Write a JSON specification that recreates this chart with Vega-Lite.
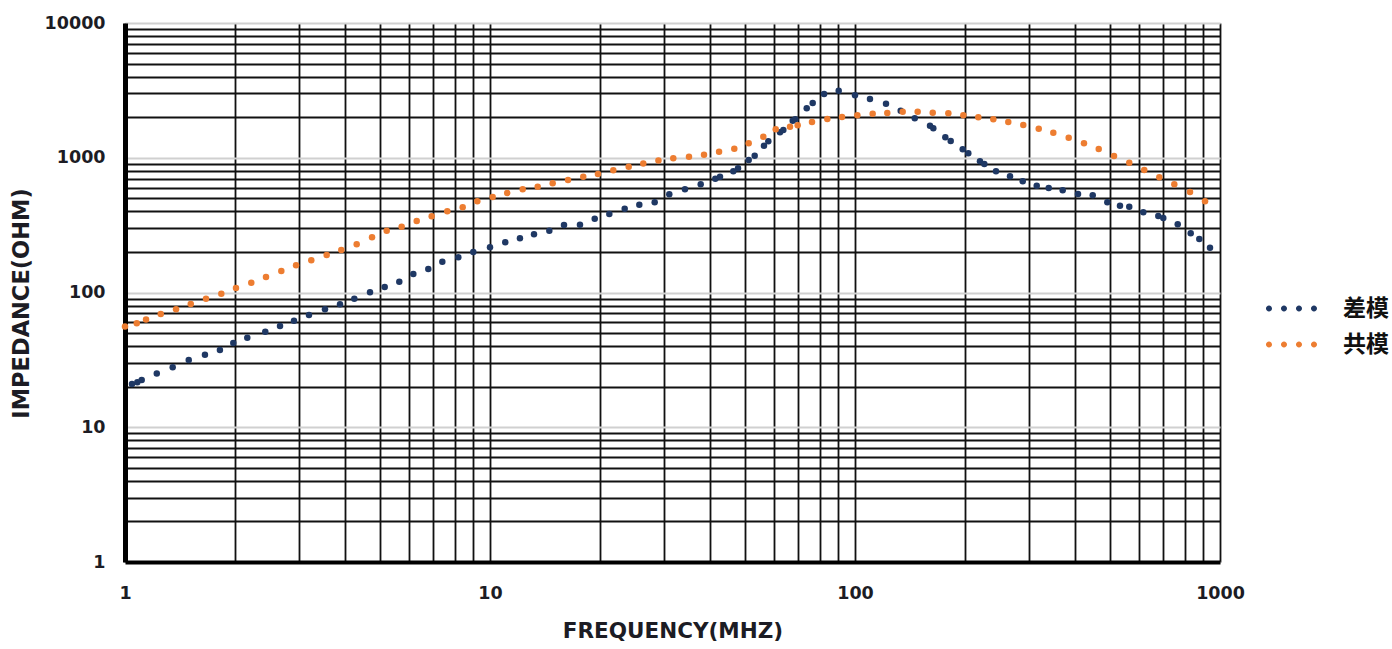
{
  "$schema": "https://vega.github.io/schema/vega-lite/v6.json",
  "autosize": "none",
  "width": 1095,
  "height": 539,
  "padding": {"left": 125, "top": 23, "right": 172, "bottom": 87},
  "background": "white",
  "datasets": {
    "pts": [
      {"s": "差模", "f": 1.045, "z": 20.9},
      {"s": "差模", "f": 1.081, "z": 21.6},
      {"s": "差模", "f": 1.111, "z": 22.4},
      {"s": "差模", "f": 1.222, "z": 25.1},
      {"s": "差模", "f": 1.351, "z": 27.9},
      {"s": "差模", "f": 1.495, "z": 31.6},
      {"s": "差模", "f": 1.656, "z": 34.5},
      {"s": "差模", "f": 1.82, "z": 37.4},
      {"s": "差模", "f": 1.98, "z": 42.2},
      {"s": "差模", "f": 2.163, "z": 46.2},
      {"s": "差模", "f": 2.423, "z": 51.2},
      {"s": "差模", "f": 2.659, "z": 56.4},
      {"s": "差模", "f": 2.904, "z": 61.8},
      {"s": "差模", "f": 3.192, "z": 68.1},
      {"s": "差模", "f": 3.531, "z": 75.0},
      {"s": "差模", "f": 3.882, "z": 81.7},
      {"s": "差模", "f": 4.249, "z": 89.9},
      {"s": "差模", "f": 4.691, "z": 100.3},
      {"s": "差模", "f": 5.146, "z": 109.9},
      {"s": "差模", "f": 5.643, "z": 120.3},
      {"s": "差模", "f": 6.165, "z": 137.1},
      {"s": "差模", "f": 6.776, "z": 149.4},
      {"s": "差模", "f": 7.403, "z": 169.3},
      {"s": "差模", "f": 8.189, "z": 182.5},
      {"s": "差模", "f": 9.0, "z": 199.8},
      {"s": "差模", "f": 10.0, "z": 216.4},
      {"s": "差模", "f": 11.01, "z": 235.9},
      {"s": "差模", "f": 12.08, "z": 252.6},
      {"s": "差模", "f": 13.2, "z": 270.3},
      {"s": "差模", "f": 14.54, "z": 287.6},
      {"s": "差模", "f": 15.95, "z": 316.8},
      {"s": "差模", "f": 17.64, "z": 318.6},
      {"s": "差模", "f": 19.36, "z": 353.0},
      {"s": "差模", "f": 21.23, "z": 382.6},
      {"s": "差模", "f": 23.39, "z": 418.7},
      {"s": "差模", "f": 25.65, "z": 448.3},
      {"s": "差模", "f": 28.26, "z": 467.0},
      {"s": "差模", "f": 30.99, "z": 535.6},
      {"s": "差模", "f": 34.21, "z": 583.0},
      {"s": "差模", "f": 37.78, "z": 635.3},
      {"s": "差模", "f": 41.43, "z": 699.0},
      {"s": "差模", "f": 42.67, "z": 723.0},
      {"s": "差模", "f": 46.41, "z": 793.0},
      {"s": "差模", "f": 47.81, "z": 835.0},
      {"s": "差模", "f": 51.14, "z": 962.0},
      {"s": "差模", "f": 53.11, "z": 1036},
      {"s": "差模", "f": 56.32, "z": 1228},
      {"s": "差模", "f": 57.88, "z": 1325},
      {"s": "差模", "f": 62.31, "z": 1545},
      {"s": "差模", "f": 63.63, "z": 1607},
      {"s": "差模", "f": 67.5, "z": 1884},
      {"s": "差模", "f": 68.61, "z": 1929},
      {"s": "差模", "f": 73.75, "z": 2328},
      {"s": "差模", "f": 76.58, "z": 2548},
      {"s": "差模", "f": 82.27, "z": 2972},
      {"s": "差模", "f": 90.23, "z": 3146},
      {"s": "差模", "f": 100.0, "z": 2908},
      {"s": "差模", "f": 109.9, "z": 2729},
      {"s": "差模", "f": 121.6, "z": 2518},
      {"s": "差模", "f": 133.4, "z": 2234},
      {"s": "差模", "f": 145.8, "z": 1963},
      {"s": "差模", "f": 160.5, "z": 1729},
      {"s": "差模", "f": 163.9, "z": 1654},
      {"s": "差模", "f": 176.8, "z": 1418},
      {"s": "差模", "f": 182.9, "z": 1331},
      {"s": "差模", "f": 197.3, "z": 1155},
      {"s": "差模", "f": 204.4, "z": 1079},
      {"s": "差模", "f": 220.0, "z": 941},
      {"s": "差模", "f": 226.1, "z": 899},
      {"s": "差模", "f": 243.4, "z": 793},
      {"s": "差模", "f": 265.9, "z": 728.4},
      {"s": "差模", "f": 288.1, "z": 668.6},
      {"s": "差模", "f": 314.7, "z": 620.3},
      {"s": "差模", "f": 339.4, "z": 596.4},
      {"s": "差模", "f": 370.7, "z": 573.2},
      {"s": "差模", "f": 408.3, "z": 538.4},
      {"s": "差模", "f": 448.0, "z": 526.3},
      {"s": "差模", "f": 491.2, "z": 467.0},
      {"s": "差模", "f": 532.1, "z": 440.8},
      {"s": "差模", "f": 564.2, "z": 433.3},
      {"s": "差模", "f": 616.4, "z": 393.7},
      {"s": "差模", "f": 677.5, "z": 369.7},
      {"s": "差模", "f": 699.3, "z": 357.2},
      {"s": "差模", "f": 765.9, "z": 320.8},
      {"s": "差模", "f": 831.3, "z": 274.9},
      {"s": "差模", "f": 877.7, "z": 249.5},
      {"s": "差模", "f": 938.9, "z": 215.0},
      {"s": "共模", "f": 1.0, "z": 56.0},
      {"s": "共模", "f": 1.077, "z": 59.1},
      {"s": "共模", "f": 1.142, "z": 63.0},
      {"s": "共模", "f": 1.253, "z": 69.2},
      {"s": "共模", "f": 1.38, "z": 75.0},
      {"s": "共模", "f": 1.514, "z": 82.2},
      {"s": "共模", "f": 1.667, "z": 89.9},
      {"s": "共模", "f": 1.836, "z": 98.0},
      {"s": "共模", "f": 2.014, "z": 108.0},
      {"s": "共模", "f": 2.218, "z": 118.3},
      {"s": "共模", "f": 2.434, "z": 130.3},
      {"s": "共模", "f": 2.681, "z": 144.4},
      {"s": "共模", "f": 2.942, "z": 159.2},
      {"s": "共模", "f": 3.239, "z": 173.4},
      {"s": "共模", "f": 3.569, "z": 189.8},
      {"s": "共模", "f": 3.914, "z": 206.7},
      {"s": "共模", "f": 4.313, "z": 227.9},
      {"s": "共模", "f": 4.751, "z": 256.8},
      {"s": "共模", "f": 5.212, "z": 287.6},
      {"s": "共模", "f": 5.728, "z": 307.8},
      {"s": "共模", "f": 6.298, "z": 339.4},
      {"s": "共模", "f": 6.922, "z": 367.6},
      {"s": "共模", "f": 7.638, "z": 400.6},
      {"s": "共模", "f": 8.418, "z": 428.7},
      {"s": "共模", "f": 9.231, "z": 475.1},
      {"s": "共模", "f": 10.17, "z": 511.4},
      {"s": "共模", "f": 11.15, "z": 547.6},
      {"s": "共模", "f": 12.29, "z": 583.0},
      {"s": "共模", "f": 13.51, "z": 609.6},
      {"s": "共模", "f": 14.85, "z": 646.0},
      {"s": "共模", "f": 16.36, "z": 683.9},
      {"s": "共模", "f": 18.01, "z": 723.0},
      {"s": "共模", "f": 19.76, "z": 757.6},
      {"s": "共模", "f": 21.77, "z": 807.0},
      {"s": "共模", "f": 23.99, "z": 858.0},
      {"s": "共模", "f": 26.3, "z": 906.0},
      {"s": "共模", "f": 28.94, "z": 954.0},
      {"s": "共模", "f": 31.78, "z": 990.0},
      {"s": "共模", "f": 35.09, "z": 1018},
      {"s": "共模", "f": 38.58, "z": 1054},
      {"s": "共模", "f": 42.42, "z": 1109},
      {"s": "共模", "f": 46.7, "z": 1167},
      {"s": "共模", "f": 51.14, "z": 1280},
      {"s": "共模", "f": 56.08, "z": 1432},
      {"s": "共模", "f": 60.65, "z": 1626},
      {"s": "共模", "f": 66.36, "z": 1699},
      {"s": "共模", "f": 69.66, "z": 1741},
      {"s": "共模", "f": 76.24, "z": 1842},
      {"s": "共模", "f": 83.98, "z": 1940},
      {"s": "共模", "f": 92.14, "z": 2005},
      {"s": "共模", "f": 101.5, "z": 2065},
      {"s": "共模", "f": 111.8, "z": 2123},
      {"s": "共模", "f": 122.6, "z": 2149},
      {"s": "共模", "f": 135.1, "z": 2196},
      {"s": "共模", "f": 148.5, "z": 2196},
      {"s": "共模", "f": 163.3, "z": 2160},
      {"s": "共模", "f": 180.2, "z": 2137},
      {"s": "共模", "f": 198.1, "z": 2065},
      {"s": "共模", "f": 217.7, "z": 1996},
      {"s": "共模", "f": 239.3, "z": 1929},
      {"s": "共模", "f": 263.0, "z": 1842},
      {"s": "共模", "f": 289.1, "z": 1750},
      {"s": "共模", "f": 318.7, "z": 1643},
      {"s": "共模", "f": 349.4, "z": 1535},
      {"s": "共模", "f": 385.0, "z": 1409},
      {"s": "共模", "f": 424.0, "z": 1280},
      {"s": "共模", "f": 465.3, "z": 1161},
      {"s": "共模", "f": 512.4, "z": 1030},
      {"s": "共模", "f": 564.2, "z": 918.7},
      {"s": "共模", "f": 620.1, "z": 811.6},
      {"s": "共模", "f": 681.9, "z": 716.1},
      {"s": "共模", "f": 749.6, "z": 635.3},
      {"s": "共模", "f": 827.7, "z": 556.9},
      {"s": "共模", "f": 909.9, "z": 475.1}
    ]
  },
  "data": {"name": "pts"},
  "mark": {"type": "point", "filled": true, "opacity": 1, "size": 42, "shape": "circle"},
  "encoding": {
    "x": {
      "field": "f",
      "type": "quantitative",
      "title": "FREQUENCY(MHZ)",
      "scale": {"type": "log", "domain": [1, 1000], "nice": false},
      "axis": {
        "values": [1, 2, 3, 4, 5, 6, 7, 8, 9, 10, 20, 30, 40, 50, 60, 70, 80, 90, 100, 200, 300, 400, 500, 600, 700, 800, 900, 1000],
        "labelExpr": "indexof([1,10,100,1000], datum.value) >= 0 ? '' + datum.value : ''",
        "labelOverlap": false,
        "labelFlush": false,
        "labelBound": false,
        "ticks": false,
        "tickSize": 0,
        "labelPadding": 22,
        "labelFont": "DejaVu Sans",
        "labelFontWeight": "bold",
        "labelFontSize": 17.5,
        "labelColor": "#1c1c24",
        "grid": true,
        "gridColor": "#111111",
        "gridWidth": 1.8,
        "gridOpacity": 1,
        "domainColor": "#000000",
        "domainWidth": 4,
        "titleFont": "DejaVu Sans",
        "titleFontWeight": "bold",
        "titleFontSize": 21.5,
        "titleColor": "#1c1c24",
        "titlePadding": 19
      }
    },
    "y": {
      "field": "z",
      "type": "quantitative",
      "title": "IMPEDANCE(OHM)",
      "scale": {"type": "log", "domain": [1, 10000], "nice": false},
      "axis": {
        "values": [1, 2, 3, 4, 5, 6, 7, 8, 9, 10, 20, 30, 40, 50, 60, 70, 80, 90, 100, 200, 300, 400, 500, 600, 700, 800, 900, 1000, 2000, 3000, 4000, 5000, 6000, 7000, 8000, 9000, 10000],
        "labelExpr": "indexof([1,10,100,1000,10000], datum.value) >= 0 ? '' + datum.value : ''",
        "labelOverlap": false,
        "labelBound": false,
        "labelFlush": false,
        "ticks": false,
        "tickSize": 0,
        "labelPadding": 20,
        "labelFont": "DejaVu Sans",
        "labelFontWeight": "bold",
        "labelFontSize": 17.5,
        "labelColor": "#1c1c24",
        "grid": true,
        "gridColor": {"condition": {"test": "indexof([1,10,100,1000,10000], datum.value) >= 0", "value": "#d0d0d0"}, "value": "#111111"},
        "gridWidth": 1.8,
        "gridOpacity": 1,
        "domainColor": "#000000",
        "domainWidth": 5,
        "titleFont": "DejaVu Sans",
        "titleFontWeight": "bold",
        "titleFontSize": 22.5,
        "titleColor": "#1c1c24",
        "titleX": -104,
        "titleY": 280,
        "titleAlign": "center",
        "titleBaseline": "middle",
        "titleAngle": -90
      }
    },
    "color": {
      "field": "s",
      "type": "nominal",
      "title": null,
      "scale": {"domain": ["差模", "共模"], "range": ["#1f3864", "#ed7d31"]},
      "legend": {
        "orient": "none",
        "legendX": 1155,
        "legendY": 274,
        "symbolType": "M -2.55 0 A 0.3 0.3 0 1 0 -1.95 0 A 0.3 0.3 0 1 0 -2.55 0 Z M -1.05 0 A 0.3 0.3 0 1 0 -0.45 0 A 0.3 0.3 0 1 0 -1.05 0 Z M 0.45 0 A 0.3 0.3 0 1 0 1.05 0 A 0.3 0.3 0 1 0 0.45 0 Z M 1.95 0 A 0.3 0.3 0 1 0 2.55 0 A 0.3 0.3 0 1 0 1.95 0 Z",
        "symbolSize": 400,
        "symbolStrokeWidth": 0,
        "symbolOpacity": 1,
        "labelOffset": 40,
        "labelFont": "Noto Sans CJK SC",
        "labelFontWeight": "bold",
        "labelFontSize": 23,
        "labelColor": "#111111",
        "rowPadding": 12
      }
    }
  },
  "config": {
    "view": {"stroke": null}
  }
}
